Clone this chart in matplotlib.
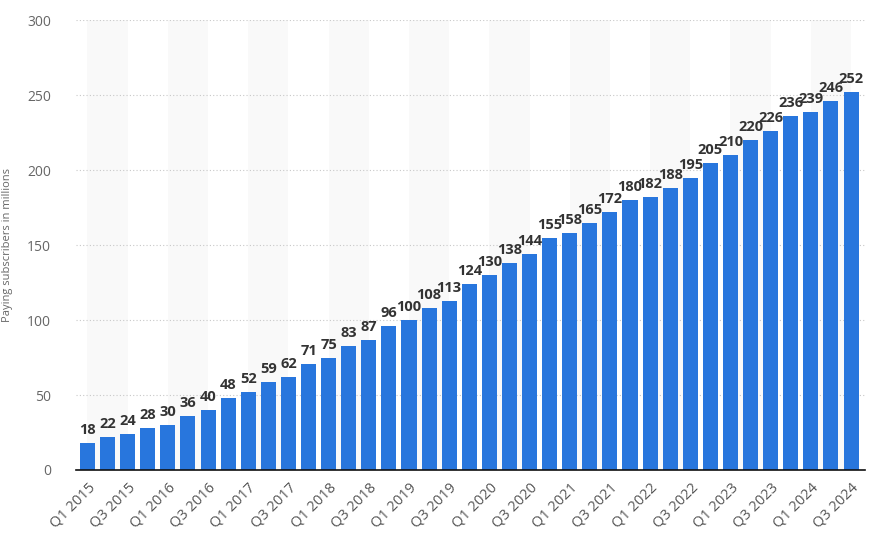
import matplotlib
matplotlib.use("Agg")
import matplotlib.pyplot as plt
import numpy as np

plt.rcParams['font.family'] = ['Open Sans', 'DejaVu Sans']

quarters = [f"Q{q} {y}" for y in range(2015, 2025) for q in (1, 2, 3, 4)][:39]
subscribers = [18, 22, 24, 28, 30, 36, 40, 48, 52, 59, 62, 71, 75, 83, 87, 96, 100, 108, 113,
               124, 130, 138, 144, 155, 158, 165, 172, 180, 182, 188, 195, 205, 210, 220, 226,
               236, 239, 246, 252]
y_ticks = [0, 50, 100, 150, 200, 250, 300]

fig = plt.figure(figsize=(8.77, 5.47), dpi=100)
ax = fig.add_axes([0.0867, 0.1408, 0.8993, 0.8222])

x = np.arange(len(subscribers))

# Alternating background stripes
for i in range(0, len(subscribers), 4):
    ax.axvspan(i, i + 2, color='#f9f9f9', zorder=0, lw=0)

ax.bar(x, subscribers, width=0.75, color='#2876dd', zorder=2)
for xi, v in zip(x, subscribers):
    ax.text(xi, v + 4, str(v), ha='center', va='bottom', fontsize=10.5,
            fontweight='bold', color='#333333', zorder=3)

ax.set_xlim(-0.57, 38.68)
ax.set_ylim(0, 300)
ax.set_yticks(y_ticks)
ax.yaxis.grid(True, linestyle=(0, (1, 2)), color='#c8c8c8', lw=0.8, zorder=1)
ax.set_axisbelow(True)

ax.set_xticks(x[::2])
ax.set_xticklabels(quarters[::2], rotation=45, ha='right', rotation_mode='anchor',
                   fontsize=10.5, color='#555555')
ax.tick_params(axis='x', length=0, pad=7)
ax.tick_params(axis='y', length=0, pad=18, labelsize=10, labelcolor='#666666')

for s in ['top', 'right', 'left']:
    ax.spines[s].set_visible(False)
ax.spines['bottom'].set_color('#111111')
ax.spines['bottom'].set_linewidth(1.2)
ax.spines['bottom'].set_zorder(4)

ax.set_ylabel('Paying subscribers in millions', fontsize=8, color='#666666')
ax.yaxis.set_label_coords(-0.08, 0.5)

plt.savefig('out.png', dpi=100)
